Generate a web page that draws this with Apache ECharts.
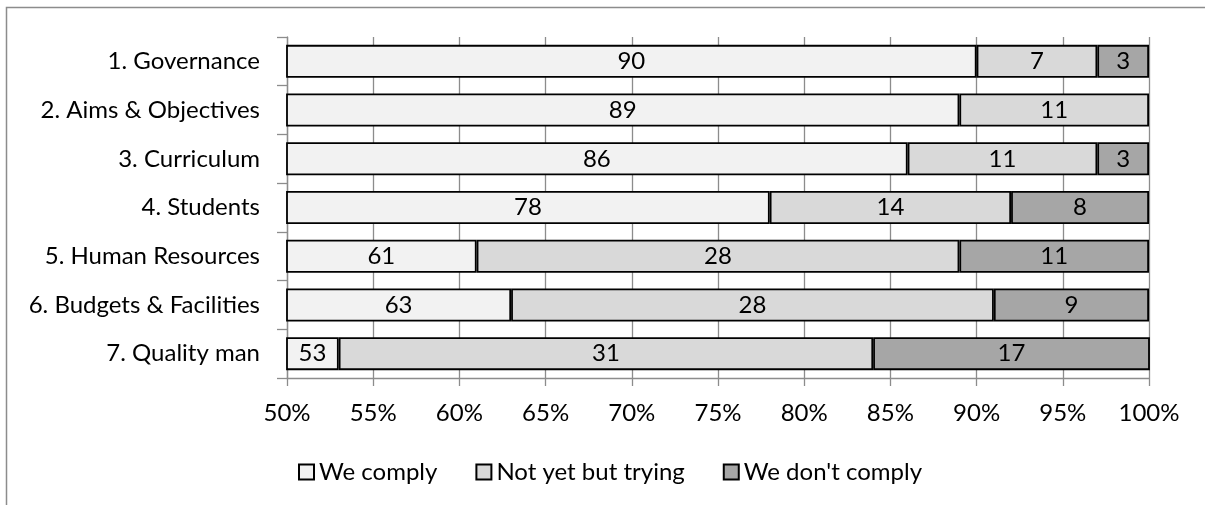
<!DOCTYPE html>
<html>
<head>
<meta charset="utf-8">
<script src="https://cdn.jsdelivr.net/npm/echarts@6/dist/echarts.min.js"></script>
<style>
  html, body { margin: 0; padding: 0; background: #fff; }
  #chart { width: 1205px; height: 505px; }
</style>
</head>
<body>
<div id="chart"></div>
<script>
// Compliance self-assessment per standard (percent of respondents)
const categories = [
  '1. Governance',
  '2. Aims & Objectives',
  '3. Curriculum',
  '4. Students',
  '5. Human Resources',
  '6. Budgets & Facilities',
  '7. Quality man'
];
const weComply     = [90, 89, 86, 78, 61, 63, 53];
const notYetTrying = [7, 11, 11, 14, 28, 28, 31];
const weDontComply = [3, 0, 3, 8, 11, 9, 17];
const seriesNames  = ['We comply', 'Not yet but trying', "We don't comply"];
const xTicks = [50, 55, 60, 65, 70, 75, 80, 85, 90, 95, 100];

const FONT = 'Lato';
const FS = 24;
const fills = ['#f2f2f2', '#d9d9d9', '#a6a6a6'];
const gridGray = '#8c8c8c';

function barSeries(name, values, fill) {
  return {
    name: name,
    type: 'bar',
    stack: 'total',
    barWidth: 33,
    data: values.map(v => (v === 0 ? null : v)),
    itemStyle: { color: fill, borderColor: '#000', borderWidth: 1.8 },
    label: {
      show: true,
      position: 'inside',
      color: '#000',
      fontFamily: FONT,
      fontSize: FS,
      formatter: p => p.value
    },
    emphasis: { disabled: true }
  };
}

const chart = echarts.init(document.getElementById('chart'), null, { renderer: 'canvas' });
chart.setOption({
  animation: false,
  backgroundColor: '#fff',
  graphic: [{
    type: 'rect',
    shape: { x: 6.5, y: 7.5, width: 1300, height: 600 },
    style: { fill: 'none', stroke: gridGray, lineWidth: 1.5 },
    silent: true,
    z: -10
  }],
  grid: { left: 287, right: 56, top: 37, bottom: 127 },
  legend: {
    left: 293,
    top: 455,
    itemWidth: 15,
    itemHeight: 15,
    itemGap: 38,
    icon: 'rect',
    textStyle: { fontFamily: FONT, fontSize: FS, color: '#000' },
    data: seriesNames
  },
  xAxis: {
    type: 'value',
    min: 50,
    max: 100,
    interval: 5,
    axisLine: { show: true, lineStyle: { color: gridGray, width: 1.3 } },
    axisTick: { show: true, length: 8, lineStyle: { color: gridGray, width: 1.3 } },
    splitLine: { show: true, lineStyle: { color: gridGray, width: 1.3 } },
    axisLabel: {
      fontFamily: FONT, fontSize: FS, color: '#000', margin: 23,
      formatter: v => (xTicks.includes(v) ? v + '%' : '')
    }
  },
  yAxis: {
    type: 'category',
    inverse: true,
    data: categories,
    axisLine: { show: true, lineStyle: { color: gridGray, width: 1.3 } },
    axisTick: { show: true, length: 10, lineStyle: { color: gridGray, width: 1.3 } },
    axisLabel: { fontFamily: FONT, fontSize: FS, color: '#000', margin: 27 }
  },
  series: [
    barSeries(seriesNames[0], weComply, fills[0]),
    barSeries(seriesNames[1], notYetTrying, fills[1]),
    barSeries(seriesNames[2], weDontComply, fills[2])
  ]
});
</script>
</body>
</html>
